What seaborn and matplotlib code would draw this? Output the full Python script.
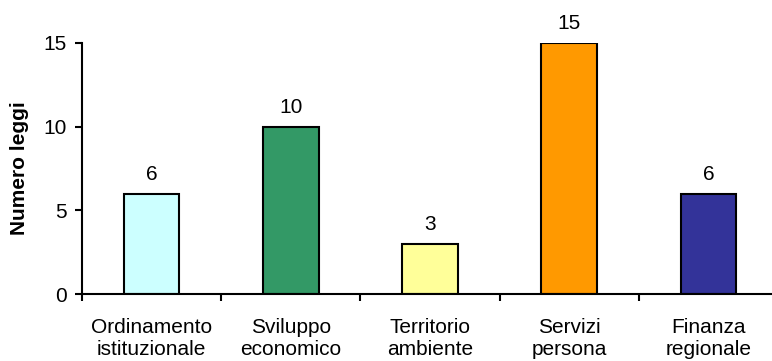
import matplotlib
matplotlib.use("Agg")
import matplotlib.pyplot as plt
import seaborn as sns
import pandas as pd

categories = ["Ordinamento\nistituzionale", "Sviluppo\neconomico", "Territorio\nambiente",
              "Servizi\npersona", "Finanza\nregionale"]
values = [6, 10, 3, 15, 6]
colors = ["#CCFFFF", "#339966", "#FFFF99", "#FF9900", "#333399"]
y_ticks = [0, 5, 10, 15]

sns.set_style("white")
plt.rcParams["font.family"] = ["Liberation Sans", "DejaVu Sans"]
plt.rcParams["text.color"] = "black"
plt.rcParams["xtick.color"] = "black"
plt.rcParams["ytick.color"] = "black"
plt.rcParams["axes.labelcolor"] = "black"

FS = 15

df = pd.DataFrame({"settore": categories, "leggi": values})

fig = plt.figure(figsize=(7.72, 3.61), dpi=100)
ax = fig.add_axes([82 / 772, 1 - 294 / 361, (778 - 82) / 772, (294 - 43) / 361])

sns.barplot(data=df, x="settore", y="leggi", hue="settore", palette=colors,
            saturation=1, width=0.4, edgecolor="black", linewidth=1.5,
            legend=False, ax=ax)

for i, v in enumerate(values):
    ax.annotate(str(v), (i, v), xytext=(0, 7), textcoords="offset points",
                ha="center", va="bottom", fontsize=FS, color="black",
                annotation_clip=False)

ax.set_xlim(-0.5, 4.5)
ax.set_ylim(0, 15)
ax.set_yticks(y_ticks)
ax.set_xticks([i - 0.5 for i in range(len(categories))], minor=True)
ax.set_xticks(range(len(categories)))
ax.set_xticklabels(categories, fontsize=FS, linespacing=1.25)
ax.tick_params(axis="x", which="major", bottom=False, length=0, pad=17)
ax.tick_params(axis="x", which="minor", bottom=True, length=5, width=1.5,
               direction="out", color="black")
ax.tick_params(axis="y", left=True, length=5, width=1.5, direction="out",
               color="black", labelsize=FS, pad=6)
ax.set_xlabel("")
ax.set_ylabel("Numero leggi", fontsize=FS, fontweight="bold", labelpad=10)

for side in ("top", "right"):
    ax.spines[side].set_visible(False)
for side in ("left", "bottom"):
    ax.spines[side].set_color("black")
    ax.spines[side].set_linewidth(1.5)

fig.savefig("out.png", dpi=100)
